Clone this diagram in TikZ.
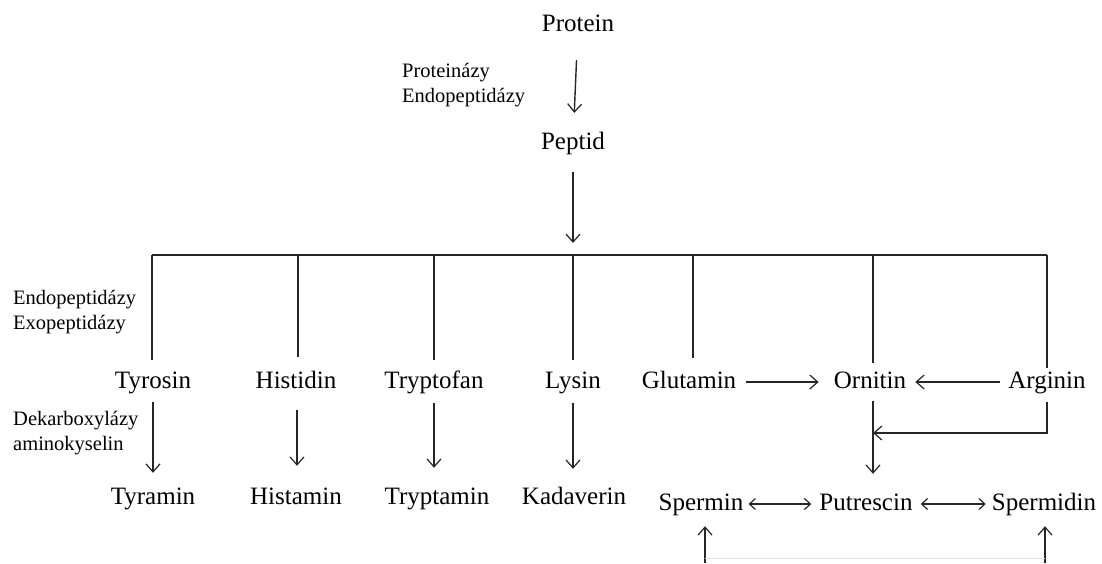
\documentclass[tikz,border=0pt]{standalone}
\usepackage{fontspec}
\setmainfont{Liberation Serif}
\usetikzlibrary{arrows.meta}
\begin{document}
\begin{tikzpicture}[x=1pt,y=-1pt,
  lbl/.style={inner sep=0pt, font=\fontsize{25}{28}\selectfont, text height=17pt, text depth=5pt},
  enz/.style={inner sep=0pt, anchor=west, font=\fontsize{20.5}{25}\selectfont, align=left},
  conn/.style={line width=1.4pt, draw=black!85},
  arr/.style={conn, -{Straight Barb[length=8pt,width=14pt,line width=1.2pt]}},
  darr/.style={conn, {Straight Barb[length=6pt,width=11pt,line width=1.2pt]}-{Straight Barb[length=6pt,width=11pt,line width=1.2pt]}}
]
\useasboundingbox (0,0) rectangle (1102,563);
\fill[white] (0,0) rectangle (1102,563);

% nodes
\node[lbl] (protein) at (578,25) {Protein};
\node[lbl] (peptid) at (573,143) {Peptid};
\node[enz] (enz1) at (402,85) {Proteinázy\\Endopeptidázy};
\node[enz] (enz2) at (13,312) {Endopeptidázy\\Exopeptidázy};
\node[enz] (enz3) at (13,433) {Dekarboxylázy\\aminokyselin};

\node[lbl] (tyrosin) at (153,382) {Tyrosin};
\node[lbl] (histidin) at (296,382) {Histidin};
\node[lbl] (tryptofan) at (434,382) {Tryptofan};
\node[lbl] (lysin) at (573,382) {Lysin};
\node[lbl] (glutamin) at (689,382) {Glutamin};
\node[lbl] (ornitin) at (870,382) {Ornitin};
\node[lbl] (arginin) at (1047,382) {Arginin};

\node[lbl] (tyramin) at (153,498) {Tyramin};
\node[lbl] (histamin) at (296,498) {Histamin};
\node[lbl] (tryptamin) at (437,498) {Tryptamin};
\node[lbl] (kadaverin) at (574,498) {Kadaverin};
\node[lbl] (spermin) at (701,504) {Spermin};
\node[lbl] (putrescin) at (866,504) {Putrescin};
\node[lbl] (spermidin) at (1044,504) {Spermidin};

% coordinates on the bar
\coordinate (b1) at (152,255);
\coordinate (b2) at (298,255);
\coordinate (b3) at (434,255);
\coordinate (b4) at (573,255);
\coordinate (b5) at (693,255);
\coordinate (b6) at (873,255);
\coordinate (b7) at (1047,255);
\coordinate (j) at (873,433);
\coordinate (s1) at (705,563);
\coordinate (s2) at (1045,563);
\coordinate (s1b) at (705,558);
\coordinate (s2b) at (1045,558);

% top
\draw[arr, shorten <=24pt, shorten >=19pt] (protein) -- (peptid);
\draw[arr, shorten <=18pt, shorten >=12pt] (peptid) -- (b4);
\draw[conn] (b1) -- (b7);

% drops
\draw[conn, shorten >=11pt] (b1) -- (b1 |- tyrosin.north);
\draw[conn, shorten >=14pt] (b2) -- (b2 |- histidin.north);
\draw[conn, shorten >=11pt] (b3) -- (b3 |- tryptofan.north);
\draw[conn, shorten >=11pt] (b4) -- (b4 |- lysin.north);
\draw[conn, shorten >=13pt] (b5) -- (b5 |- glutamin.north);
\draw[conn, shorten >=8pt] (b6) -- (b6 |- ornitin.north);
\draw[conn, shorten >=3pt] (b7) -- (b7 |- arginin.north);

% amino acid -> amine
\draw[arr, shorten <=9pt, shorten >=14pt] (tyrosin) -- (tyramin);
\draw[arr, shorten <=17pt, shorten >=21pt] ([xshift=1pt]histidin.south) -- ([xshift=1pt]histidin.south |- histamin.north);
\draw[arr, shorten <=10pt, shorten >=19pt] (tryptofan.south) -- (tryptofan.south |- tryptamin.north);
\draw[arr, shorten <=10pt, shorten >=18pt] (lysin.south) -- (lysin.south |- kadaverin.north);

% right part
\draw[arr, shorten <=10pt, shorten >=15pt] (glutamin) -- (ornitin);
\draw[arr, shorten <=8pt, shorten >=9pt] (arginin) -- (ornitin);
\draw[arr, shorten <=9pt] (arginin.south) |- (j);
\draw[arr, shorten <=8pt, shorten >=19pt] ([xshift=3pt]ornitin.south) -- ([xshift=3pt]ornitin.south |- putrescin.north);
\draw[darr, shorten <=5pt, shorten >=8pt] (spermin) -- (putrescin);
\draw[darr, shorten <=8pt, shorten >=6pt] (putrescin) -- (spermidin);
\draw[arr, shorten >=11pt] (s1) -- (s1 |- spermin.south);
\draw[arr, shorten >=11pt] (s2) -- (s2 |- spermidin.south);
\draw[line width=1pt, black!12] (s1b) -- (s2b);
\end{tikzpicture}
\end{document}
